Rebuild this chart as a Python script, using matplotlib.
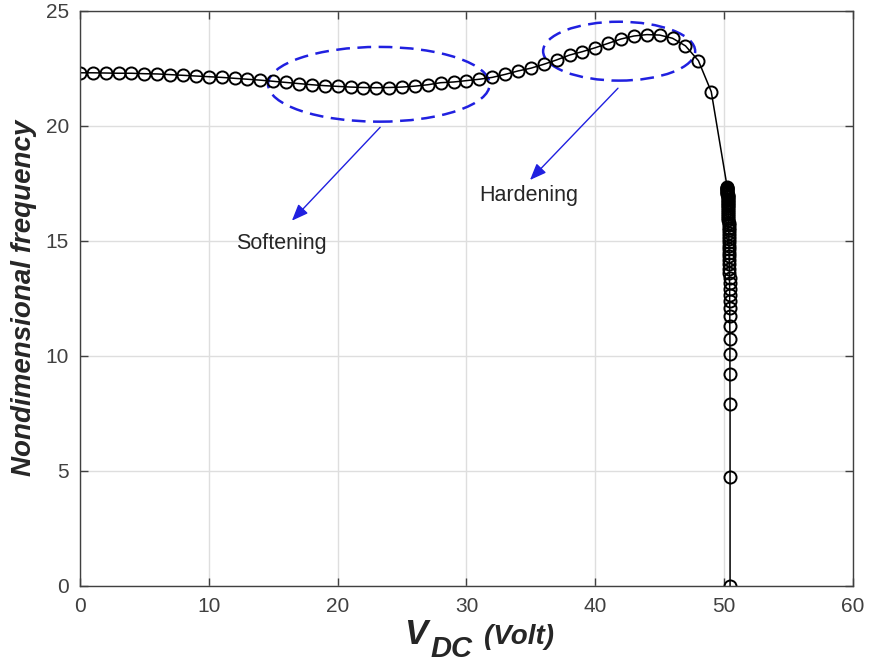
import matplotlib
matplotlib.use("Agg")
import matplotlib.pyplot as plt
from matplotlib.patches import Ellipse

# Font setup (MATLAB-ish look with Arial metrics)
plt.rcParams['font.family'] = ['Liberation Sans', 'DejaVu Sans']

# Data
v_main = [0, 1, 2, 3, 4, 5, 6, 7, 8, 9, 10, 11, 12, 13, 14, 15, 16, 17, 18, 19,
          20, 21, 22, 23, 24, 25, 26, 27, 28, 29, 30, 31, 32, 33, 34, 35, 36, 37,
          38, 39, 40, 41, 42, 43, 44, 45, 46, 47, 48, 49]
f_main = [22.30, 22.30, 22.29, 22.28, 22.28, 22.26, 22.25, 22.22, 22.19, 22.16,
          22.13, 22.10, 22.06, 22.02, 21.98, 21.93, 21.88, 21.83, 21.78, 21.74,
          21.71, 21.68, 21.66, 21.65, 21.66, 21.68, 21.72, 21.78, 21.87, 21.90,
          21.96, 22.02, 22.10, 22.23, 22.38, 22.50, 22.67, 22.86, 23.07, 23.22,
          23.39, 23.58, 23.77, 23.90, 23.96, 23.94, 23.80, 23.47, 22.83, 21.48]

# pull-in branch near 50 V
v_pull = [50.24, 50.24, 50.24, 50.25, 50.25, 50.25, 50.26, 50.26, 50.26, 50.27,
          50.27, 50.27, 50.28, 50.28, 50.28, 50.29, 50.29, 50.30, 50.30, 50.31,
          50.31, 50.32, 50.32, 50.33, 50.33, 50.34, 50.34, 50.35, 50.35, 50.36,
          50.36, 50.37, 50.37, 50.38, 50.38, 50.39, 50.39, 50.40, 50.40, 50.41,
          50.41, 50.42, 50.42, 50.43, 50.43, 50.43, 50.44, 50.44, 50.44, 50.45,
          50.45, 50.45, 50.46, 50.46, 50.46]
f_pull = [17.32, 17.30, 17.27, 17.24, 17.21, 17.17, 17.13, 17.09, 17.04, 16.99,
          16.94, 16.88, 16.82, 16.76, 16.70, 16.63, 16.56, 16.49, 16.41, 16.33,
          16.25, 16.16, 16.07, 15.98, 15.88, 15.78, 15.67, 15.56, 15.45, 15.33,
          15.20, 15.07, 14.93, 14.79, 14.64, 14.48, 14.32, 14.15, 13.97, 13.78,
          13.58, 13.37, 13.14, 12.90, 12.64, 12.37, 12.08, 11.74, 11.30, 10.72,
          10.08, 9.22, 7.92, 4.71, 0.0]

v_all = v_main + v_pull
f_all = f_main + f_pull

fig = plt.figure(figsize=(8.71, 6.64), dpi=100)
ax = fig.add_axes([0.0918, 0.1179, 0.8875, 0.866])

ax.plot(v_all, f_all, color='black', lw=1.1, marker='o', markersize=8.7,
        markerfacecolor='none', markeredgecolor='black', markeredgewidth=1.4)

# highlight regions
ax.add_patch(Ellipse((23.2, 21.8), 17.2, 3.25, fill=False, edgecolor='#2020e0',
                     lw=1.8, linestyle=(0, (5.5, 3))))
ax.add_patch(Ellipse((41.85, 23.24), 11.8, 2.56, fill=False, edgecolor='#2020e0',
                     lw=1.8, linestyle=(0, (5.5, 3))))

arrow_kw = dict(arrowstyle='-|>,head_length=1.0,head_width=0.4', color='#2020e0',
                lw=1.0, shrinkA=0, shrinkB=0)
ax.annotate('', xy=(16.45, 15.87), xytext=(23.3, 19.93), arrowprops=arrow_kw)
ax.annotate('', xy=(34.93, 17.64), xytext=(41.76, 21.63), arrowprops=arrow_kw)

ax.text(15.6, 14.89, 'Softening', fontsize=15.5, color='#262626', ha='center', va='center')
ax.text(34.8, 16.95, 'Hardening', fontsize=15.5, color='#262626', ha='center', va='center')

ax.set_xlim(0, 60)
ax.set_ylim(0, 25)
ax.set_xticks([0, 10, 20, 30, 40, 50, 60])
ax.set_yticks([0, 5, 10, 15, 20, 25])
ax.grid(True, color='#dedede', lw=1.0)
ax.set_axisbelow(True)
ax.tick_params(direction='in', top=True, right=True, length=6, width=1,
               labelsize=15, labelcolor='#404040', color='#404040', pad=8)
for s in ax.spines.values():
    s.set_color('#404040')
    s.set_linewidth(1.0)

# x label pieces: V, subscript DC, (Volt)
lab = dict(fontweight='bold', style='italic', color='#262626', ha='left', va='baseline')
fig.text(404 / 871, 1 - 644 / 664, 'V', fontsize=25, **lab)
fig.text(430 / 871, 1 - 657 / 664, 'DC', fontsize=21, **lab)
fig.text(484 / 871, 1 - 644 / 664, '(Volt)', fontsize=20, **lab)
ax.set_ylabel('Nondimensional frequency', fontsize=20, fontweight='bold',
              style='italic', color='#262626', labelpad=6)

fig.savefig('out.png', dpi=100)
